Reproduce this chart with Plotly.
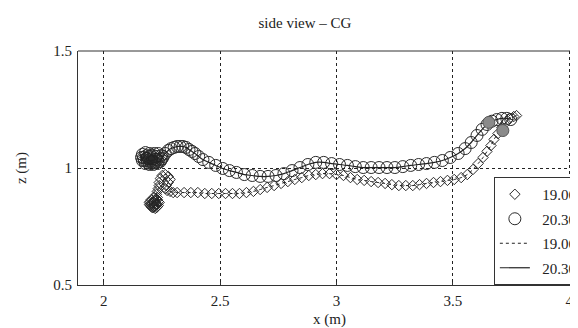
import plotly.graph_objects as go

# 19.06 series (diamonds)
x_1906 = [2.213, 2.204, 2.208, 2.221, 2.230, 2.226, 2.213, 2.200, 2.196, 2.204, 2.217, 2.226, 2.221,
          2.217, 2.204, 2.196, 2.200, 2.213, 2.226, 2.234, 2.238, 2.230, 2.217, 2.208, 2.217, 2.230,
          2.234, 2.230, 2.226, 2.230, 2.234, 2.238, 2.238, 2.243, 2.251, 2.264, 2.277, 2.285, 2.277,
          2.268, 2.264, 2.272, 2.285, 2.298, 2.315, 2.345, 2.374, 2.404, 2.434, 2.464, 2.494, 2.523,
          2.553, 2.583, 2.613, 2.643, 2.672, 2.702, 2.732, 2.762, 2.791, 2.821, 2.851, 2.881, 2.911,
          2.940, 2.970, 3.000, 3.030, 3.060, 3.089, 3.119, 3.149, 3.179, 3.209, 3.238, 3.268, 3.298,
          3.328, 3.357, 3.387, 3.417, 3.447, 3.477, 3.506, 3.536, 3.562, 3.587, 3.609, 3.630, 3.647,
          3.664, 3.677, 3.694, 3.711, 3.728, 3.745, 3.762, 3.774]
z_1906 = [0.853, 0.844, 0.831, 0.827, 0.835, 0.848, 0.857, 0.857, 0.844, 0.835, 0.835, 0.844, 0.861,
          0.874, 0.865, 0.853, 0.840, 0.831, 0.831, 0.840, 0.853, 0.865, 0.861, 0.848, 0.840, 0.844,
          0.857, 0.874, 0.887, 0.900, 0.912, 0.925, 0.938, 0.955, 0.968, 0.972, 0.964, 0.951, 0.938,
          0.925, 0.912, 0.904, 0.900, 0.895, 0.895, 0.895, 0.895, 0.895, 0.891, 0.891, 0.891, 0.891,
          0.891, 0.891, 0.895, 0.900, 0.908, 0.917, 0.925, 0.934, 0.942, 0.951, 0.959, 0.968, 0.972,
          0.976, 0.976, 0.972, 0.968, 0.959, 0.951, 0.947, 0.942, 0.938, 0.934, 0.929, 0.925, 0.925,
          0.925, 0.929, 0.934, 0.938, 0.942, 0.947, 0.951, 0.959, 0.972, 0.994, 1.019, 1.045, 1.071,
          1.096, 1.122, 1.147, 1.173, 1.194, 1.212, 1.220, 1.224]

# 20.30 series (circles)
x_2030 = [2.183, 2.170, 2.174, 2.187, 2.204, 2.221, 2.230, 2.226, 2.213, 2.196, 2.183, 2.187, 2.204,
          2.221, 2.196, 2.179, 2.166, 2.162, 2.166, 2.179, 2.196, 2.213, 2.230, 2.243, 2.251, 2.247,
          2.234, 2.217, 2.200, 2.191, 2.200, 2.217, 2.234, 2.247, 2.255, 2.264, 2.277, 2.289, 2.302,
          2.315, 2.328, 2.340, 2.353, 2.366, 2.379, 2.392, 2.408, 2.426, 2.451,
          2.481, 2.511, 2.540, 2.570, 2.604, 2.638, 2.672, 2.706, 2.740, 2.774, 2.809, 2.843, 2.877,
          2.911, 2.945, 2.979, 3.013, 3.047, 3.081, 3.115, 3.149, 3.183, 3.217, 3.251, 3.285, 3.319,
          3.353, 3.387, 3.421, 3.455, 3.489, 3.523, 3.553, 3.579, 3.604, 3.626, 3.647, 3.668, 3.689,
          3.711, 3.732, 3.749]
z_2030 = [1.053, 1.045, 1.032, 1.024, 1.019, 1.024, 1.036, 1.049, 1.053, 1.049, 1.041, 1.032, 1.032,
          1.036, 1.062, 1.066, 1.058, 1.045, 1.032, 1.019, 1.015, 1.015, 1.019, 1.028, 1.041, 1.053,
          1.062, 1.062, 1.053, 1.041, 1.028, 1.024, 1.028, 1.036, 1.049, 1.062, 1.075, 1.083, 1.088,
          1.092, 1.092, 1.092, 1.088, 1.079, 1.071, 1.062, 1.049, 1.036, 1.024,
          1.011, 0.998, 0.989, 0.981, 0.972, 0.968, 0.964, 0.964, 0.968, 0.976, 0.989, 1.002, 1.015,
          1.024, 1.024, 1.019, 1.015, 1.011, 1.006, 1.002, 1.002, 1.002, 1.002, 1.002, 1.006, 1.011,
          1.015, 1.019, 1.024, 1.032, 1.045, 1.062, 1.083, 1.109, 1.139, 1.165, 1.186, 1.200, 1.207,
          1.212, 1.212, 1.207]

# highlighted points (grey)
x_mark = [3.655, 3.715]
z_mark = [1.195, 1.160]

x_ticks = [2, 2.5, 3, 3.5, 4]
y_ticks = [0.5, 1, 1.5]
NB = "\u00a0\u00a0"
labels = [NB + "19.06", NB + "20.30", NB + "19.06,", NB + "20.30,"]

FONT = "Liberation Serif"
INK = "#222222"

fig = go.Figure()
fig.add_trace(go.Scatter(x=x_1906, y=z_1906, mode="markers", name=labels[0], legendgroup="a",
                         marker=dict(symbol="diamond-open", size=8, color="#2a2a2a", line=dict(width=1))))
fig.add_trace(go.Scatter(x=x_2030, y=z_2030, mode="markers", name=labels[1], legendgroup="b",
                         marker=dict(symbol="circle-open", size=12, color="#2a2a2a", line=dict(width=1))))
fig.add_trace(go.Scatter(x=x_1906, y=z_1906, mode="lines", name=labels[2], legendgroup="c",
                         line=dict(color="#222222", width=1, dash="dot", shape="spline")))
fig.add_trace(go.Scatter(x=x_2030, y=z_2030, mode="lines", name=labels[3], legendgroup="d",
                         line=dict(color="#222222", width=1.2, shape="spline")))
fig.add_trace(go.Scatter(x=x_mark, y=z_mark, mode="markers", showlegend=False,
                         marker=dict(symbol="circle", size=12, color="#8a8a8a",
                                     line=dict(color="#555555", width=1))))

fig.update_layout(
    width=578, height=328,
    margin=dict(l=70, r=0, t=43, b=51),
    paper_bgcolor="white", plot_bgcolor="white",
    font=dict(family=FONT, size=15, color=INK),
    title=dict(text="side view \u2013 CG", x=297 / 578, xanchor="center", xref="container",
               y=1 - 15 / 328, yanchor="middle", yref="container",
               font=dict(family=FONT, size=15, color=INK)),
    showlegend=True,
    legend=dict(x=(490 - 70) / 508, xanchor="left", y=0, yanchor="bottom",
                bgcolor="white", bordercolor="#333333", borderwidth=1,
                font=dict(family=FONT, size=15, color=INK),
                traceorder="grouped", tracegroupgap=2),
    shapes=[dict(type="line", xref="paper", yref="paper", x0=0, x1=1, y0=1, y1=1,
                 line=dict(color="#333333", width=1))],
)
fig.update_xaxes(range=[1.889, 4.051], tickvals=x_ticks, ticktext=["2", "2.5", "3", "3.5", "4"],
                 showline=True, linecolor="#333333", linewidth=1, ticks="inside", ticklen=3,
                 tickcolor="#333333", showgrid=True, gridcolor="#222222", griddash="dot", gridwidth=1,
                 zeroline=False, ticklabelstandoff=2,
                 title=dict(text="x (m)", standoff=5, font=dict(size=15)))
fig.update_yaxes(range=[0.5, 1.5], tickvals=y_ticks, ticktext=["0.5", "1", "1.5"],
                 showline=True, linecolor="#333333", linewidth=1, ticks="inside", ticklen=3,
                 tickcolor="#333333", showgrid=True, gridcolor="#222222", griddash="dot", gridwidth=1,
                 zeroline=False, ticklabelstandoff=2,
                 title=dict(text="z (m)", standoff=23, font=dict(size=15)))

fig.write_html("out.html")
